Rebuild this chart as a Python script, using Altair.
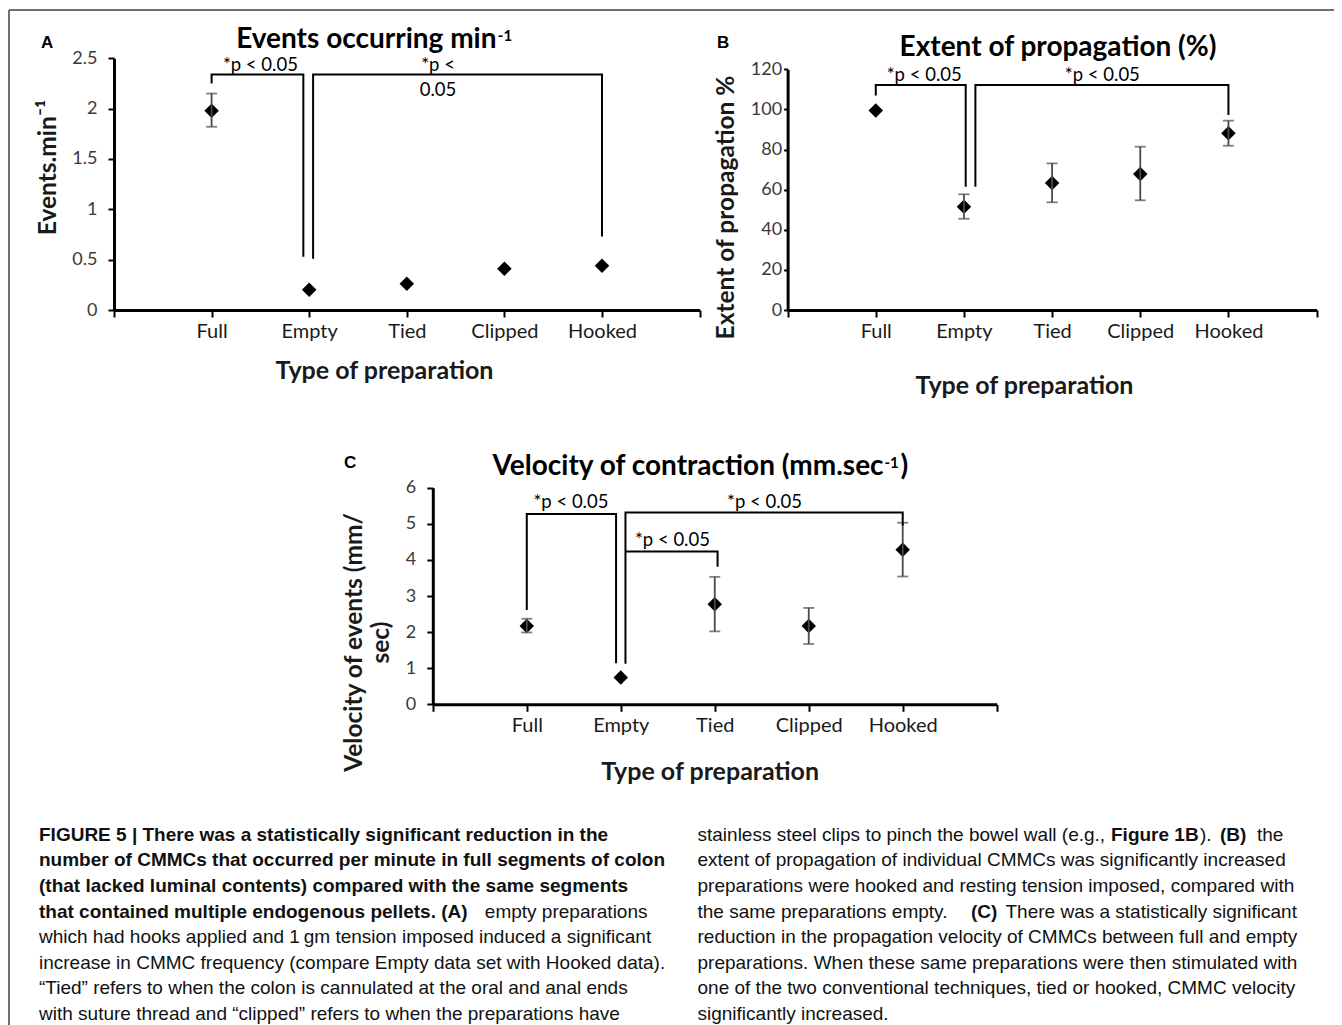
import altair as alt
import pandas as pd

# ---------------- data ----------------
categories = ["Full", "Empty", "Tied", "Clipped", "Hooked"]
category_pos = [1, 2, 3, 4, 5]

# Panel A: events per minute
events_mean = [1.98, 0.20, 0.26, 0.41, 0.44]
events_low = [1.82, None, None, None, None]
events_high = [2.15, None, None, None, None]

# Panel B: extent of propagation (%)
extent_mean = [99.4, 51.5, 63.3, 67.8, 88.1]
extent_low = [None, 45.5, 53.7, 54.7, 81.9]
extent_high = [None, 57.7, 73.1, 81.4, 94.4]

# Panel C: velocity (mm/sec)
velocity_mean = [2.17, 0.74, 2.77, 2.17, 4.28]
velocity_low = [1.99, None, 2.02, 1.67, 3.54]
velocity_high = [2.37, None, 3.53, 2.67, 5.03]

# significance brackets (data units of each panel)
events_bracket_x = [[1, 1, 1.94, 1.94], [2.04, 2.04, 5, 5]]
events_bracket_y = [[2.25, 2.34, 2.34, 0.53], [0.51, 2.34, 2.34, 0.73]]
events_sig_text = ["*p < 0.05", "*p <", "0.05"]
events_sig_x = [1.5, 3.32, 3.32]
events_sig_y = [2.435, 2.435, 2.19]

extent_bracket_x = [[1, 1, 2.02, 2.02], [2.13, 2.13, 5, 5]]
extent_bracket_y = [[107.0, 112.2, 112.2, 61.5], [61.5, 112.2, 112.2, 97.2]]
extent_sig_text = ["*p < 0.05", "*p < 0.05"]
extent_sig_x = [1.55, 3.57]
extent_sig_y = [117.0, 117.0]

velocity_bracket_x = [[1, 1, 1.95, 1.95], [2.05, 2.05, 5, 5], [2.05, 3.03, 3.03]]
velocity_bracket_y = [[2.61, 5.27, 5.27, 1.14], [1.12, 5.31, 5.31, 4.95], [4.23, 4.23, 3.81]]
velocity_sig_text = ["*p < 0.05", "*p < 0.05", "*p < 0.05"]
velocity_sig_x = [1.47, 3.53, 2.55]
velocity_sig_y = [5.61, 5.61, 4.55]

events_ticks = [0, 0.5, 1, 1.5, 2, 2.5]
extent_ticks = [0, 20, 40, 60, 80, 100, 120]
velocity_ticks = [0, 1, 2, 3, 4, 5, 6]

caption_left = [
    "FIGURE 5 | There was a statistically significant reduction in the",
    "number of CMMCs that occurred per minute in full segments of colon",
    "(that lacked luminal contents) compared with the same segments",
    "that contained multiple endogenous pellets. (A)",
    "which had hooks applied and 1\u2009gm tension imposed induced a significant",
    "increase in CMMC frequency (compare Empty data set with Hooked data).",
    "\u201cTied\u201d refers to when the colon is cannulated at the oral and anal ends",
    "with suture thread and \u201cclipped\u201d refers to when the preparations have",
]
caption_left_tail = "empty preparations"
caption_right = [
    "stainless steel clips to pinch the bowel wall (e.g.,",
    "extent of propagation of individual CMMCs was significantly increased",
    "preparations were hooked and resting tension imposed, compared with",
    "the same preparations empty.",
    "reduction in the propagation velocity of CMMCs between full and empty",
    "preparations. When these same preparations were then stimulated with",
    "one of the two conventional techniques, tied or hooked, CMMC velocity",
    "significantly increased.",
]
caption_right_extra = ["Figure 1B", ").", "(B)", "the", "(C)", "There was a statistically significant"]

# ---------------- layout ----------------
PLOT_W, PLOT_H = 1326, 1017
FONT = "Lato"
CAP_FONT = "Liberation Sans"


def P(v):
    """page pixel -> plot pixel"""
    return v - 8


x_label_expr = " : ".join(
    "datum.value == %d ? '%s'" % (p, c) for p, c in zip(category_pos, categories)
) + " : ''"


def make_panel(mean, low, high, bx, by, st, sx, sy, y_domain, y_ticks, frame,
               y_title, y_title_pos, x_title_pos, y_tick_size, y_label_pad):
    df = pd.DataFrame({"cat": categories, "x": category_pos, "y": mean,
                       "lo": low, "hi": high})
    rows = []
    for i, (xs, ys) in enumerate(zip(bx, by)):
        for j, (xv, yv) in enumerate(zip(xs, ys)):
            rows.append({"id": i, "ord": j, "x": xv, "y": yv})
    br = pd.DataFrame(rows)
    sig = pd.DataFrame({"t": st, "x": sx, "y": sy})

    xs = alt.Scale(domain=[0, 6], range=[P(frame[0]), P(frame[1])], nice=False, zero=False)
    ys = alt.Scale(domain=y_domain, range=[P(frame[2]), P(frame[3])], nice=False, zero=False)

    xaxis = alt.Axis(
        orient="bottom", offset=P(frame[2]) - PLOT_H, values=list(range(7)),
        labelExpr=x_label_expr, grid=False, domainColor="black", domainWidth=3,
        tickColor="black", tickWidth=2, tickSize=7, labelFont=FONT, labelFontSize=20,
        labelColor="#1a1a1a", labelPadding=4, labelOverlap=False, labelFlush=False,
        title="Type of preparation", titleFont=FONT, titleFontSize=25,
        titleFontWeight="bold", titleColor="#1a1a1a", titleX=P(x_title_pos[0]),
        titleY=x_title_pos[1] - frame[2], titleAlign="center", titleBaseline="middle",
        titleAngle=0,
    )
    yaxis = alt.Axis(
        orient="left", offset=-P(frame[0]), values=y_ticks, format=".4~g", grid=False,
        domainColor="black", domainWidth=3, tickColor="black", tickWidth=2,
        tickSize=y_tick_size, labelFont=FONT, labelFontSize=18, labelColor="#3a3a3a",
        labelPadding=y_label_pad, labelOverlap=False,
        title=y_title, titleFont=FONT, titleFontSize=24.5, titleFontWeight="bold",
        titleColor="#1a1a1a", titleAngle=270, titleX=y_title_pos[0] - frame[0],
        titleY=P(y_title_pos[1]), titleAlign="center", titleBaseline="middle",
        titleLineHeight=27,
    )

    pts = alt.Chart(df).mark_point(shape="diamond", filled=True, size=210,
                                   color="black", opacity=1).encode(
        x=alt.X("x:Q", scale=xs, axis=xaxis),
        y=alt.Y("y:Q", scale=ys, axis=yaxis),
    )
    err = alt.Chart(df).transform_filter("isValid(datum.lo)").mark_rule(
        color="#4a4a4a", strokeWidth=1.8).encode(
        x=alt.X("x:Q", scale=xs, axis=None),
        y=alt.Y("lo:Q", scale=ys, axis=None),
        y2="hi:Q",
    )
    caps = alt.Chart(df).transform_fold(["lo", "hi"], as_=["k", "v"]).transform_filter(
        "isValid(datum.v)").mark_tick(orient="horizontal", size=11, thickness=1.8,
                                       color="#4a4a4a").encode(
        x=alt.X("x:Q", scale=xs, axis=None),
        y=alt.Y("v:Q", scale=ys, axis=None),
    )
    brk = alt.Chart(br).mark_line(color="black", strokeWidth=2, strokeJoin="miter").encode(
        x=alt.X("x:Q", scale=xs, axis=None),
        y=alt.Y("y:Q", scale=ys, axis=None),
        detail="id:N",
        order="ord:Q",
    )
    txt = alt.Chart(sig).mark_text(font=FONT, fontSize=18.5, color="black",
                                   baseline="middle", align="center").encode(
        x=alt.X("x:Q", scale=xs, axis=None),
        y=alt.Y("y:Q", scale=ys, axis=None),
        text="t:N",
    )
    # flat list of layers (the scales are fully explicit, so each layer maps identically)
    return [pts, err, caps, brk, txt]


panelA = make_panel(events_mean, events_low, events_high, events_bracket_x, events_bracket_y,
                    events_sig_text, events_sig_x, events_sig_y, [0, 2.5], events_ticks,
                    (114, 699.6, 310, 58.3), "Events.min\u207b\u00b9", (48, 167), (384, 370),
                    6, 11)
panelB = make_panel(extent_mean, extent_low, extent_high, extent_bracket_x, extent_bracket_y,
                    extent_sig_text, extent_sig_x, extent_sig_y, [0, 120], extent_ticks,
                    (787.6, 1316.6, 310, 69.3), "Extent of propagation %", (726, 207),
                    (1024, 385), 4, 2)
panelC = make_panel(velocity_mean, velocity_low, velocity_high, velocity_bracket_x,
                    velocity_bracket_y, velocity_sig_text, velocity_sig_x, velocity_sig_y,
                    [0, 6], velocity_ticks, (432.8, 996.7, 704.3, 487.7),
                    ["Velocity of events (mm/", "sec)"], (354.5, 642), (709.6, 771.7), 6, 11)

one = pd.DataFrame({"k": [0]})


def label(text, x, y, size, weight="bold", align="left", font=FONT, color="black"):
    return alt.Chart(one).mark_text(text=text, font=font, fontSize=size, fontWeight=weight,
                                    align=align, baseline="alphabetic", color=color).encode(
        x=alt.value(P(x)), y=alt.value(P(y)))


deco = [
    label("A", 41, 48.3, 17, font="Liberation Sans"),
    label("B", 717, 48.3, 17, font="Liberation Sans"),
    label("C", 344, 468.3, 17, font="Liberation Sans"),
    label("Events occurring min", 496.5, 47.5, 28, align="right"),
    label("-1", 497.8, 40.5, 15),
    label("Extent of propagation (%)", 1058, 56, 28, align="center"),
    label("Velocity of contraction (mm.sec", 883.6, 475, 28, align="right"),
    label("-1", 884.5, 468.3, 15),
    label(")", 900.5, 475, 28),
]

deco.append(alt.Chart(one).mark_rule(color="#707070", strokeWidth=2).encode(
    x=alt.value(P(9)), x2=alt.value(P(1342)), y=alt.value(P(10))))
deco.append(alt.Chart(one).mark_rule(color="#707070", strokeWidth=2).encode(
    x=alt.value(P(9)), y=alt.value(P(10)), y2=alt.value(P(1025))))

LINE0, LSTEP = 840.7, 25.6
CAP_SIZE = 19
for i, line in enumerate(caption_left):
    deco.append(label(line, 39, LINE0 + i * LSTEP, CAP_SIZE,
                      weight="bold" if i < 4 else "normal", font=CAP_FONT, color="#111"))
deco.append(label(caption_left_tail, 647.5, LINE0 + 3 * LSTEP, CAP_SIZE, weight="normal",
                  align="right", font=CAP_FONT, color="#111"))
for i, line in enumerate(caption_right):
    deco.append(label(line, 697.5, LINE0 + i * LSTEP, CAP_SIZE, weight="normal",
                      font=CAP_FONT, color="#111"))
extra = [(1111, 0, "bold"), (1200, 0, "normal"), (1220, 0, "bold"),
         (1257, 0, "normal"), (971, 3, "bold"), (1005.5, 3, "normal")]
for t, (xx, li, w) in zip(caption_right_extra, extra):
    deco.append(label(t, xx, LINE0 + li * LSTEP, CAP_SIZE, weight=w, font=CAP_FONT,
                      color="#111"))

chart = alt.layer(*panelA, *panelB, *panelC, *deco).resolve_scale(
    x="independent", y="independent"
).properties(
    width=PLOT_W, height=PLOT_H, autosize=alt.AutoSizeParams(type="none"), padding=0,
    background="white",
).configure_view(stroke=None)

chart.save("out.html", embed_options={"renderer": "svg", "actions": False})
